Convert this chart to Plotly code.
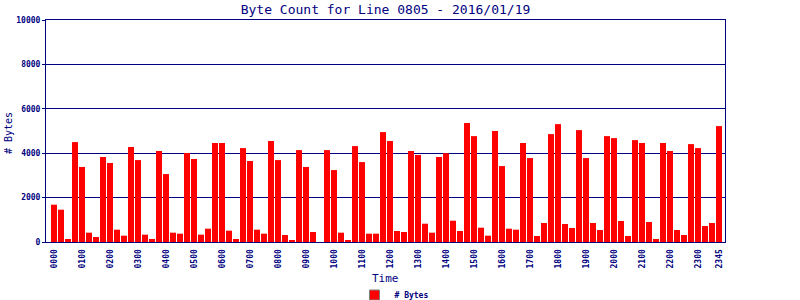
import plotly.graph_objects as go

# 15-minute time slots (categories)
times = [f"{h:02d}{m:02d}" for h in range(24) for m in (0, 15, 30, 45)]

byte_counts = [
    1680, 1455, 135, 4500, 3380, 420, 225, 3830,
    3560, 555, 285, 4280, 3690, 330, 135, 4100,
    3060, 420, 375, 4010, 3740, 330, 600, 4460,
    4460, 510, 135, 4230, 3650, 555, 375, 4550,
    3690, 315, 90, 4140, 3380, 450, 0, 4140,
    3240, 420, 90, 4320, 3600, 375, 375, 4950,
    4550, 495, 450, 4100, 3920, 825, 420, 3830,
    4000, 960, 495, 5360, 4770, 645, 285, 5000,
    3420, 600, 555, 4460, 3780, 270, 855, 4860,
    5310, 810, 630, 5040, 3780, 855, 540, 4770,
    4680, 945, 270, 4590, 4460, 900, 135, 4460,
    4100, 540, 315, 4410, 4230, 720, 855, 5220,
]

tick_labels = [t for i, t in enumerate(times) if i % 4 == 0] + ["2345"]
y_ticks = [0, 2000, 4000, 6000, 8000, 10000]

NAVY = "#000080"
MONO = "DejaVu Sans Mono"

fig = go.Figure()
fig.add_trace(go.Bar(
    x=times, y=byte_counts, name="# Bytes",
    marker=dict(color="#ff0000", line=dict(width=0)),
    showlegend=False,
))
fig.add_trace(go.Scatter(
    x=[None], y=[None], mode="markers", name="# Bytes",
    marker=dict(symbol="square", size=10, color="#ff0000",
                line=dict(color="#808080", width=1)),
))

fig.update_layout(
    width=800, height=300,
    margin=dict(l=46, r=75, t=20, b=58, autoexpand=False),
    paper_bgcolor="white", plot_bgcolor="white",
    bargap=1/7,
    title=dict(text="Byte Count for Line 0805 - 2016/01/19",
               font=dict(family=MONO, size=13, color=NAVY),
               x=385.5/800, xanchor="center", y=1-9/300, yanchor="middle"),
    legend=dict(orientation="h", x=(394-46)/679, xanchor="center",
                y=(242-295)/222, yanchor="middle",
                font=dict(family=MONO, size=8, color=NAVY, weight="bold"),
                itemwidth=30, bgcolor="rgba(0,0,0,0)"),
    showlegend=True,
    xaxis=dict(
        type="category", range=[-1.14, 95.86], automargin=False,
        tickmode="array", tickvals=tick_labels, ticktext=tick_labels,
        tickangle=-90, ticklabelstandoff=3,
        tickfont=dict(family=MONO, size=8, color=NAVY, weight="bold"),
        showgrid=False, showline=True, linecolor=NAVY, linewidth=1,
        mirror=True, ticks="", ticklen=0,
    ),
    yaxis=dict(
        range=[0, 10000], tickvals=y_ticks, automargin=False,
        ticktext=[str(v) for v in y_ticks],
        tickfont=dict(family=MONO, size=8, color=NAVY, weight="bold"),
        showgrid=True, gridcolor=NAVY, gridwidth=1,
        zeroline=False,
        showline=True, linecolor=NAVY, linewidth=1, mirror=True,
        ticks="outside", ticklen=3, tickcolor=NAVY,
    ),
    annotations=[
        dict(text="Time", xref="paper", yref="paper",
             x=(385-46)/679, y=(242-278)/222, xanchor="center", yanchor="middle",
             showarrow=False, font=dict(family=MONO, size=11, color=NAVY)),
        dict(text="# Bytes", xref="paper", yref="paper",
             x=(8-46)/679, y=(242-133)/222, xanchor="center", yanchor="middle",
             textangle=-90, showarrow=False,
             font=dict(family=MONO, size=10, color=NAVY)),
    ],
)

fig.write_html("out.html")
